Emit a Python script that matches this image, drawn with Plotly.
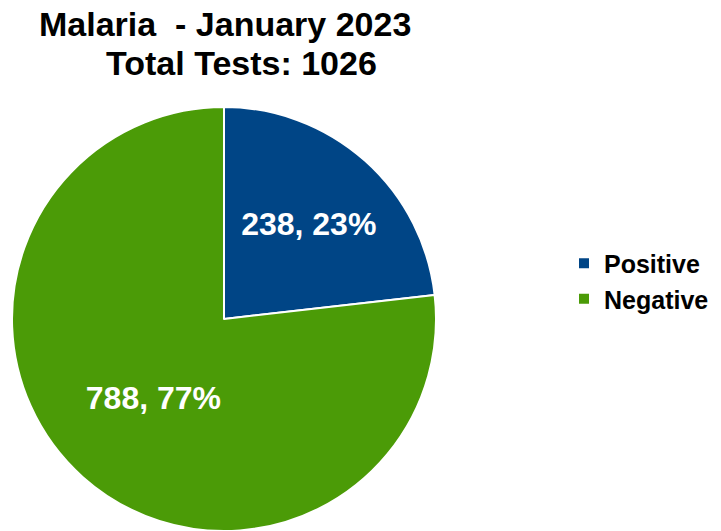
import plotly.graph_objects as go

# data
labels = ["Positive", "Negative"]
values = [238, 788]
colors = ["#004586", "#4b9b07"]
title_line1 = "Malaria  - January 2023"
title_line2 = "Total Tests: 1026"

fig = go.Figure()
fig.add_trace(go.Pie(
    labels=["<b>" + l + "</b>" for l in labels],
    values=values,
    sort=False,
    direction="clockwise",
    rotation=0,
    marker=dict(colors=colors, line=dict(color="white", width=2)),
    texttemplate="<b>%{value}, %{percent:.0%}</b>",
    textposition="inside",
    insidetextorientation="horizontal",
    insidetextfont=dict(color="white", size=32, family="Liberation Sans"),
    domain=dict(x=[4 / 721, 428 / 721], y=[8 / 531, 432 / 531]),
    hoverinfo="label+value+percent",
))

# title lines as annotations (second line sits a bit to the right)
fig.add_annotation(
    text="<b>" + title_line1.replace("  ", "&nbsp; ") + "</b>",
    xref="paper", yref="paper",
    x=217 / 721, xanchor="center",
    y=1 - 16 / 531, yanchor="middle",
    showarrow=False,
    font=dict(size=34, family="Liberation Sans", color="black"),
)
fig.add_annotation(
    text="<b>" + title_line2 + "</b>",
    xref="paper", yref="paper",
    x=233 / 721, xanchor="center",
    y=1 - 55 / 531, yanchor="middle",
    showarrow=False,
    font=dict(size=34, family="Liberation Sans", color="black"),
)

fig.update_layout(
    width=721, height=531,
    margin=dict(l=0, r=0, t=0, b=0),
    paper_bgcolor="white",
    plot_bgcolor="white",
    font=dict(family="Liberation Sans", color="black"),
    legend=dict(
        x=556 / 721, xanchor="left",
        y=1 - 273 / 531, yanchor="middle",
        font=dict(size=25, family="Liberation Sans", color="black"),
        itemsizing="constant",
        tracegroupgap=0,
    ),
)

fig.write_html("out.html")
